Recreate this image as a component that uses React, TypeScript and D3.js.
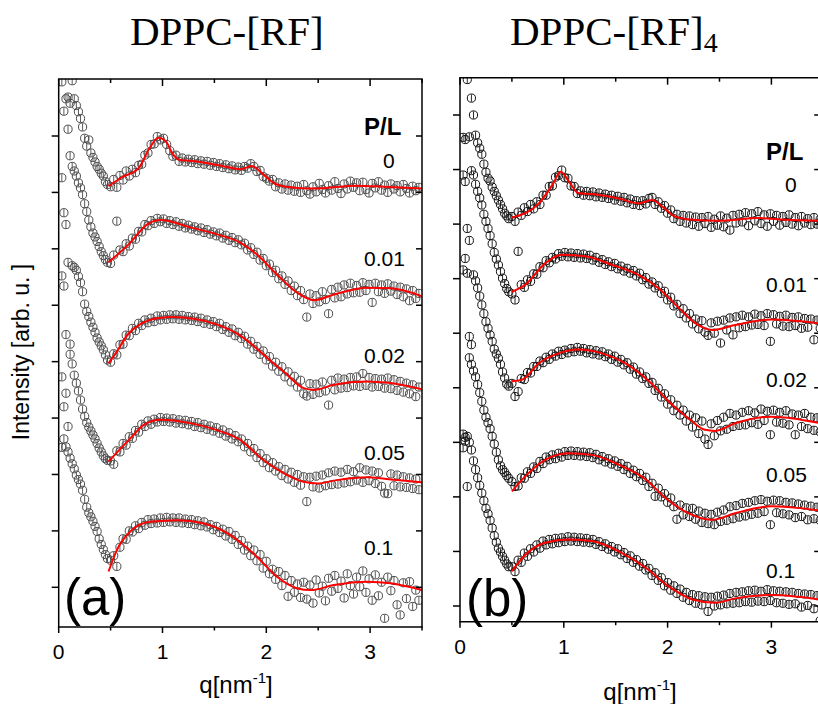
import React from "react";
import * as d3 from "d3";

// shared q grid (nm^-1) for all measured curves
const qGrid = [
  0.03, 0.05, 0.07, 0.09, 0.11, 0.13, 0.15, 0.17, 0.19, 0.21, 0.23, 0.25, 0.27, 0.29, 0.31, 0.33, 0.35, 0.37, 0.39, 0.41, 0.43, 0.45, 0.47,
  0.50, 0.53, 0.56, 0.59, 0.62, 0.65, 0.68, 0.71, 0.74, 0.77, 0.80, 0.83, 0.86, 0.89, 0.92, 0.95, 0.98,
  1.01, 1.04, 1.07, 1.10, 1.13, 1.16, 1.19, 1.22, 1.25, 1.28, 1.31, 1.34, 1.37, 1.40, 1.43, 1.46, 1.49,
  1.52, 1.55, 1.58, 1.61, 1.64, 1.67, 1.70, 1.73, 1.76, 1.79, 1.82, 1.85, 1.88, 1.91, 1.94, 1.97,
  2.00, 2.03, 2.06, 2.09, 2.12, 2.15, 2.18, 2.21, 2.24, 2.27, 2.30, 2.33, 2.36, 2.39, 2.42, 2.45, 2.48,
  2.51, 2.54, 2.57, 2.60, 2.63, 2.66, 2.69, 2.72, 2.75, 2.78, 2.81, 2.84, 2.87, 2.90, 2.93, 2.96, 2.99,
  3.02, 3.05, 3.08, 3.11, 3.14, 3.17, 3.20, 3.23, 3.26, 3.29, 3.32, 3.35, 3.38, 3.41, 3.44, 3.47,
];

// Panel (a): DPPC-[RF], stacked intensities (arb. u.)
const a0 = [
  89.6, 84.4, 86.6, 86.9, 85.8, 89.8, 86.6, 85.4, 84.3, 83.1, 81.6, 79.6, 78.2, 79.3, 77.0, 76.2, 75.4, 74.6, 74.1, 73.4, 72.9, 71.9, 71.4,
  71.0, 72.3, 70.9, 73.0, 72.2, 73.8, 72.9, 74.1, 73.5, 74.8, 75.0, 76.6, 77.0, 78.5, 78.6, 79.9, 79.3,
  79.6, 78.5, 77.4, 76.4, 76.6, 75.5, 76.1, 75.4, 75.9, 75.3, 75.8, 75.1, 75.6, 75.0, 75.5, 74.8, 75.3,
  74.6, 75.1, 74.4, 74.9, 74.2, 74.7, 74.0, 74.5, 73.9, 74.6, 74.3, 75.1, 74.6, 73.7, 73.9, 72.8,
  72.5, 72.0, 72.3, 71.0, 71.7, 70.6, 71.5, 70.4, 71.3, 70.2, 71.1, 70.0, 71.4, 70.3, 69.7, 71.0, 70.1,
  71.6, 70.5, 69.9, 71.2, 70.4, 71.9, 70.7, 69.8, 71.5, 70.6, 72.0, 70.9, 71.7, 70.3, 71.8, 70.5, 69.9,
  71.6, 70.8, 71.9, 70.4, 71.3, 70.0, 71.5, 70.6, 71.2, 70.1, 71.4, 70.7, 69.9, 71.1, 70.3, 70.9,
];
const a1 = [
  72.6, 66.4, 64.3, 81.2, 76.5, 74.6, 73.8, 72.9, 71.7, 70.8, 69.6, 68.0, 66.6, 65.1, 63.9, 62.8, 62.1, 61.3, 60.4, 59.5, 58.8, 58.1, 57.6,
  57.4, 58.9, 64.9, 59.8, 59.5, 60.9, 60.5, 61.9, 61.7, 63.1, 63.0, 64.3, 64.1, 65.0, 64.5, 65.4, 64.8,
  65.3, 64.5, 65.0, 64.3, 64.8, 64.0, 64.5, 63.7, 64.2, 63.5, 63.9, 63.2, 63.7, 62.9, 63.4, 62.6, 63.0,
  62.3, 62.8, 61.9, 62.4, 61.5, 62.0, 61.1, 61.6, 60.7, 61.0, 59.8, 60.2, 59.0, 59.4, 58.0, 58.3,
  57.0, 57.3, 55.8, 56.2, 54.7, 55.2, 53.7, 54.3, 52.6, 53.4, 51.7, 52.6, 51.0, 47.9, 52.0, 50.3, 51.7,
  50.6, 52.4, 51.0, 48.5, 52.8, 51.3, 53.2, 51.5, 53.6, 52.0, 53.9, 52.2, 53.5, 52.3, 54.0, 52.6, 53.7,
  50.5, 53.9, 52.4, 53.6, 52.1, 53.8, 52.5, 53.4, 51.9, 53.2, 51.5, 52.9, 50.8, 52.6, 51.2, 52.1,
];
const a2 = [
  55.2, 53.4, 44.8, 57.6, 43.1, 57.0, 56.7, 56.2, 55.1, 54.0, 52.4, 50.2, 48.9, 48.0, 47.0, 46.1, 45.2, 44.2, 43.5, 42.8, 42.1, 41.2, 40.3,
  39.9, 41.4, 41.2, 43.0, 43.1, 44.7, 44.6, 45.9, 45.5, 46.8, 46.4, 47.4, 46.9, 47.7, 47.1, 48.1, 47.4,
  48.2, 47.5, 48.3, 47.6, 48.3, 47.5, 48.2, 47.4, 48.0, 47.3, 47.9, 47.1, 47.7, 46.8, 47.4, 46.6, 47.1,
  46.2, 46.8, 45.7, 46.2, 45.2, 45.8, 44.6, 45.2, 44.1, 44.5, 43.1, 43.6, 42.2, 42.7, 41.3, 41.9,
  40.3, 40.9, 39.2, 39.9, 38.3, 39.1, 37.3, 38.2, 36.4, 37.4, 35.5, 36.7, 34.3, 33.9, 36.1, 34.2, 36.0,
  34.5, 36.4, 34.8, 32.3, 36.7, 35.0, 37.1, 35.3, 36.9, 35.4, 37.2, 35.7, 37.3, 35.6, 37.9, 35.8, 37.2,
  35.5, 37.0, 35.6, 36.9, 35.3, 37.1, 35.2, 36.8, 34.9, 36.5, 34.6, 36.2, 34.3, 35.9, 33.8, 35.5,
];
const a3 = [
  37.3, 32.0, 34.4, 28.5, 41.3, 39.6, 37.6, 36.2, 34.8, 33.2, 31.6, 30.3, 29.2, 28.4, 27.7, 27.0, 26.3, 25.5, 24.7, 24.0, 23.3, 22.8, 22.5,
  22.4, 21.8, 24.2, 24.0, 25.5, 25.2, 26.7, 26.4, 27.8, 27.5, 28.9, 28.5, 29.5, 28.9, 29.8, 29.3, 30.1,
  29.4, 30.0, 29.3, 29.9, 29.1, 29.7, 29.0, 29.6, 28.8, 29.4, 28.5, 29.2, 28.3, 28.9, 28.0, 28.6, 27.7,
  28.3, 27.3, 27.9, 26.8, 27.4, 26.3, 26.9, 25.8, 26.3, 24.9, 25.5, 24.0, 24.6, 23.0, 23.7, 22.1,
  22.8, 21.2, 22.1, 20.6, 21.4, 19.8, 20.9, 19.2, 20.4, 18.6, 20.0, 18.1, 19.6, 15.2, 19.5, 17.8, 19.7,
  17.6, 19.9, 18.0, 20.3, 18.2, 20.6, 18.3, 20.4, 18.5, 20.9, 18.7, 20.5, 19.0, 21.2, 18.6, 20.8, 18.9,
  20.6, 18.4, 20.3, 17.9, 16.7, 16.6, 20.1, 18.0, 19.9, 17.8, 19.6, 17.7, 19.4, 17.5, 19.2, 17.3,
];
const a4 = [
  24.8, 26.3, 24.9, 24.0, 22.9, 21.9, 21.0, 19.9, 19.1, 18.3, 17.2, 15.6, 14.2, 13.2, 12.5, 11.7, 10.8, 9.9, 8.6, 7.6, 6.7, 5.8, 5.1,
  4.8, 5.6, 3.7, 7.1, 8.6, 8.5, 10.0, 9.8, 10.9, 10.4, 11.5, 11.0, 12.0, 11.3, 12.1, 11.4, 12.3,
  11.5, 12.4, 11.6, 12.3, 11.5, 12.3, 11.4, 12.1, 11.3, 12.0, 11.1, 11.8, 10.9, 11.6, 10.7, 11.1, 10.2,
  10.8, 9.7, 10.3, 9.1, 9.9, 8.5, 9.2, 7.6, 8.3, 6.6, 7.3, 5.6, 6.6, 4.7, 5.8, 3.4,
  4.6, 2.4, 3.2, 1.4, 2.8, 0.3, 2.1, -1.6, 1.2, -0.9, 0.6, -1.8, 0.9, -2.1, 0.4, -2.8, 1.3,
  -1.0, 0.2, -2.4, 1.6, -0.7, 2.1, -0.2, 1.1, -1.9, 2.4, 0.3, -1.2, 1.8, 0.1, 2.9, -0.9, 1.5,
  -2.3, 2.2, -1.5, 0.9, -5.5, 1.8, -0.6, 1.2, -3.1, -4.9, 0.8, -2.0, 1.0, -3.4, -0.5, -2.3,
];

// Panel (b): DPPC-[RF]4
const b0 = [
  85.9, 85.5, 96.5, 86.0, 93.1, 90.0, 86.3, 84.9, 83.9, 82.8, 81.0, 79.5, 78.4, 77.9, 76.8, 76.0, 75.2, 74.4, 73.6, 72.8, 72.0, 71.5, 71.0,
  71.4, 70.5, 72.2, 71.6, 73.0, 72.3, 73.6, 72.8, 74.1, 73.6, 75.3, 75.3, 76.9, 77.0, 78.6, 78.9, 79.9,
  78.5, 78.4, 77.0, 76.9, 75.6, 76.1, 75.3, 76.0, 75.2, 75.9, 75.0, 75.7, 74.9, 75.5, 74.7, 75.3, 74.4,
  75.1, 74.2, 74.9, 73.9, 74.6, 73.6, 74.3, 73.4, 74.3, 73.7, 74.7, 74.9, 73.6, 74.1, 72.9, 73.4,
  72.0, 72.6, 71.0, 71.8, 70.5, 71.6, 70.2, 71.5, 69.9, 71.3, 69.6, 71.2, 70.1, 71.4, 69.4, 70.9, 69.8,
  71.5, 69.5, 71.1, 68.9, 71.6, 70.2, 71.8, 70.4, 72.1, 69.7, 71.9, 70.6, 72.3, 70.1, 71.7, 69.6, 71.9,
  70.5, 71.6, 69.8, 71.4, 70.3, 71.7, 70.0, 71.2, 69.7, 71.4, 70.2, 71.0, 69.9, 71.2, 70.0, 70.9,
];
const b1 = [
  79.0, 77.8, 69.2, 67.0, 79.8, 79.0, 77.3, 76.0, 74.8, 73.5, 71.8, 70.5, 69.2, 67.9, 66.4, 64.8, 63.6, 62.5, 61.3, 60.1, 59.1, 58.2, 57.6,
  57.2, 56.1, 65.0, 58.9, 58.4, 59.8, 59.5, 60.9, 60.8, 62.2, 62.0, 63.3, 62.9, 63.9, 63.6, 64.6, 64.1,
  64.8, 64.0, 64.7, 63.9, 64.6, 63.8, 64.5, 63.7, 64.3, 63.4, 63.9, 63.0, 63.5, 62.6, 63.1, 62.2, 62.8,
  61.8, 62.3, 61.4, 61.9, 61.0, 61.5, 60.5, 61.0, 59.8, 60.2, 59.0, 59.4, 58.3, 58.7, 57.3, 57.7,
  56.1, 56.6, 55.0, 55.3, 53.6, 54.5, 52.8, 53.6, 51.7, 52.6, 50.8, 52.3, 50.2, 49.6, 51.9, 50.0, 52.2,
  48.2, 52.4, 50.6, 52.8, 49.7, 53.0, 51.0, 53.3, 51.2, 53.0, 51.5, 53.5, 51.6, 53.2, 51.4, 53.6, 48.5,
  53.4, 51.7, 53.1, 51.3, 53.3, 51.2, 52.9, 51.4, 53.0, 50.9, 52.7, 51.1, 52.6, 48.8, 52.4, 50.9,
];
const b2 = [
  61.6, 63.7, 61.0, 49.4, 47.9, 60.7, 59.6, 58.3, 56.8, 55.2, 53.6, 52.1, 50.9, 49.7, 48.5, 47.1, 46.2, 45.4, 44.3, 42.9, 41.8, 40.7, 40.3,
  40.8, 38.4, 39.3, 41.7, 41.5, 42.8, 42.7, 43.9, 43.9, 44.9, 44.6, 45.6, 45.2, 46.2, 45.8, 46.7, 46.1,
  46.9, 46.4, 47.2, 46.6, 47.4, 46.7, 47.2, 46.4, 47.0, 46.2, 46.8, 46.0, 46.6, 45.7, 46.2, 45.2, 45.8,
  44.7, 45.2, 44.2, 44.6, 43.4, 43.8, 42.5, 42.9, 41.7, 42.0, 40.8, 41.0, 39.5, 39.9, 38.3, 38.9,
  37.0, 37.8, 35.8, 36.8, 35.0, 35.9, 33.9, 35.0, 32.8, 34.5, 31.6, 33.9, 30.6, 29.6, 33.4, 31.2, 34.0,
  32.1, 34.6, 32.4, 35.3, 32.9, 35.0, 33.1, 35.5, 33.2, 35.8, 33.6, 35.4, 33.3, 36.1, 34.0, 35.7, 31.4,
  35.9, 33.7, 35.5, 33.5, 35.8, 33.2, 35.2, 31.4, 35.0, 32.9, 35.3, 32.5, 34.6, 32.2, 34.5, 31.9,
];
const b3 = [
  29.0, 30.2, 21.9, 45.5, 44.3, 43.1, 42.0, 40.6, 39.1, 37.5, 35.9, 34.6, 33.6, 32.5, 31.1, 29.7, 28.2, 26.8, 25.7, 25.0, 24.5, 23.9, 23.4,
  22.8, 21.9, 22.0, 23.5, 23.4, 24.6, 24.3, 25.5, 25.2, 26.5, 26.1, 27.3, 26.8, 27.7, 27.0, 28.0, 27.3,
  28.3, 27.6, 28.4, 27.6, 28.3, 27.5, 28.2, 27.4, 28.1, 27.2, 27.8, 26.8, 27.4, 26.4, 27.0, 26.0, 26.6,
  25.6, 26.1, 25.0, 25.6, 24.3, 24.9, 23.7, 24.3, 23.0, 23.6, 21.9, 22.5, 20.1, 21.6, 20.0, 20.6,
  19.0, 19.8, 18.2, 15.9, 18.5, 16.7, 18.0, 16.4, 17.9, 15.9, 17.4, 15.3, 17.0, 15.1, 16.8, 14.9, 17.2,
  15.5, 17.6, 15.7, 18.2, 16.0, 18.4, 16.3, 18.8, 16.5, 19.0, 16.8, 19.3, 17.0, 19.5, 17.3, 19.2, 14.9,
  19.4, 17.1, 19.3, 16.9, 19.0, 16.7, 18.9, 16.2, 18.7, 16.4, 18.5, 15.8, 18.3, 16.0, 18.1, 15.7,
];
const b4 = [
  31.5, 30.9, 31.1, 30.0, 28.6, 26.6, 25.0, 23.5, 22.1, 20.7, 19.3, 17.9, 16.9, 15.7, 14.3, 12.9, 11.7, 10.6, 9.9, 9.1, 8.4, 7.7, 7.2,
  7.2, 6.3, 8.4, 8.0, 9.7, 9.1, 10.5, 9.9, 11.2, 10.6, 11.9, 11.2, 12.2, 11.4, 12.4, 11.6, 12.5,
  11.8, 12.7, 11.9, 12.6, 11.8, 12.5, 11.7, 12.4, 11.6, 12.2, 11.3, 11.8, 10.9, 11.4, 10.4, 10.9, 9.9,
  10.5, 9.4, 9.8, 8.7, 9.2, 8.0, 8.5, 7.3, 7.8, 6.6, 6.9, 5.6, 6.1, 4.7, 5.2, 3.7,
  4.3, 2.9, 3.7, 2.3, 3.1, 1.6, 2.5, 1.0, 2.1, 0.5, 1.9, 0.2, 1.7, -1.0, 1.6, 0.0, 1.8,
  0.2, 2.0, 0.4, 2.3, 0.5, 2.5, 0.6, 2.6, 0.8, 2.8, 0.7, 2.9, 0.9, 2.7, 0.8, 3.0, 1.0,
  2.8, 0.6, 2.7, 0.5, 2.6, 0.3, 2.5, 0.4, 2.3, -0.2, 2.2, 0.1, 2.1, -0.5, 1.9, -2.7,
];

// model fits (red lines), [q, intensity]
const fitA0 = [[0.48, 71.1], [0.6, 72.6], [0.77, 74.3], [0.88, 78.0], [0.96, 79.7], [1.03, 79.1], [1.1, 76.8], [1.16, 75.8], [1.27, 75.6], [1.46, 75.1], [1.6, 74.6], [1.75, 74.1], [1.86, 74.7], [1.97, 73.2], [2.1, 71.4], [2.3, 70.8], [2.49, 70.7], [2.87, 71.2], [3.13, 71.0], [3.5, 70.7]];
const fitA1 = [[0.48, 57.6], [0.69, 61.1], [0.85, 64.3], [0.98, 65.1], [1.27, 63.8], [1.52, 62.6], [1.75, 61.1], [1.91, 59.0], [2.1, 55.5], [2.3, 52.2], [2.46, 50.9], [2.65, 51.9], [2.97, 53.1], [3.2, 53.0], [3.5, 51.6]];
const fitA2 = [[0.48, 39.7], [0.55, 41.5], [0.67, 44.9], [0.8, 46.8], [0.95, 47.7], [1.11, 47.9], [1.3, 47.6], [1.52, 46.6], [1.75, 44.6], [1.94, 41.8], [2.05, 40.0], [2.17, 38.2], [2.36, 35.3], [2.46, 35.0], [2.65, 35.9], [2.97, 36.5], [3.2, 36.2], [3.5, 35.1]];
const fitA3 = [[0.48, 22.3], [0.69, 26.4], [0.82, 28.8], [0.98, 29.7], [1.27, 29.1], [1.52, 27.9], [1.75, 26.1], [1.97, 22.6], [2.17, 20.2], [2.36, 18.7], [2.49, 18.4], [2.68, 19.0], [2.97, 19.5], [3.26, 19.0], [3.5, 18.6]];
const fitA4 = [[0.48, 2.8], [0.56, 6.6], [0.69, 9.9], [0.88, 11.6], [1.14, 11.9], [1.4, 11.3], [1.65, 9.3], [1.91, 5.4], [2.1, 1.9], [2.3, -0.2], [2.43, -0.5], [2.65, 0.4], [2.97, 1.0], [3.2, 0.7], [3.5, -0.5]];
const fitB0 = [[0.5, 71.2], [0.76, 73.8], [0.89, 77.2], [0.97, 79.6], [1.05, 77.8], [1.14, 75.7], [1.27, 75.5], [1.53, 74.7], [1.72, 73.8], [1.85, 74.4], [1.95, 73.2], [2.07, 71.4], [2.24, 70.8], [2.49, 70.6], [2.88, 71.1], [3.13, 70.8], [3.5, 70.6]];
const fitB1 = [[0.5, 57.6], [0.63, 58.9], [0.82, 62.8], [0.98, 64.4], [1.21, 64.1], [1.47, 62.5], [1.72, 60.7], [1.91, 58.3], [2.11, 54.6], [2.27, 51.8], [2.43, 50.6], [2.65, 51.5], [3.0, 52.5], [3.5, 51.7]];
const fitB2 = [[0.5, 41.2], [0.6, 41.5], [0.76, 44.5], [0.95, 46.3], [1.14, 47.0], [1.37, 46.3], [1.59, 44.5], [1.82, 41.2], [2.01, 37.5], [2.2, 34.4], [2.36, 32.3], [2.46, 32.1], [2.65, 33.5], [3.0, 34.7], [3.5, 33.4]];
const fitB3 = [[0.5, 21.0], [0.63, 23.8], [0.82, 26.8], [1.05, 28.0], [1.27, 27.7], [1.53, 25.9], [1.79, 23.2], [1.98, 19.8], [2.17, 17.3], [2.43, 15.8], [2.65, 17.0], [3.0, 18.3], [3.5, 17.4]];
const fitB4 = [[0.5, 6.4], [0.63, 9.4], [0.82, 11.6], [1.05, 12.2], [1.27, 11.9], [1.53, 10.0], [1.79, 7.0], [2.01, 3.6], [2.24, 1.2], [2.46, 0.6], [2.65, 1.4], [3.0, 2.0], [3.5, 1.1]];

const plLabels = ["0", "0.01", "0.02", "0.05", "0.1"];
const xMajorTicks = [0, 1, 2, 3];
const xMinorTicks = [0.5, 1.5, 2.5, 3.5];
const xTickLabels = ["0", "1", "2", "3"];
const yTicksA = [0, 10, 20, 30, 40, 50, 60, 70, 80];
const yTicksB = [0, 10, 20, 30, 40, 50, 60, 70, 80, 90];

const SANS = "'Liberation Sans', Arial, sans-serif";
const SERIF = "'Liberation Serif', 'Times New Roman', serif";

type PanelProps = {
  id: string;
  left: number; right: number; top: number; bottom: number;
  xRange: [number, number];
  yDomain: [number, number]; yRange: [number, number];
  series: number[][];
  fits: number[][][];
  markerColor: string;
  yTicks: number[];
  tickLabelY: number;
  labelX: number;
  zeroX: number;
  plY: number;
  labelYs: number[];
  letter: string; letterX: number; letterY: number;
  xTitleX: number; xTitleY: number;
};

function Panel(p: PanelProps) {
  const x = d3.scaleLinear().domain([0, 3.5]).range(p.xRange);
  const y = d3.scaleLinear().domain(p.yDomain).range(p.yRange);
  const line = d3
    .line<number[]>()
    .x((d) => x(d[0]))
    .y((d) => y(d[1]))
    .curve(d3.curveMonotoneX);
  const r = 4.1;
  const ax = { stroke: "#000", strokeWidth: 1.5 };
  return (
    <g>
      <defs>
        <clipPath id={p.id}>
          <rect x={p.left} y={p.top} width={p.right - p.left} height={p.bottom - p.top} />
        </clipPath>
      </defs>
      <g clipPath={`url(#${p.id})`}>
        {p.series.map((vals, si) =>
          vals.map((v, i) => {
            if (v == null || i >= qGrid.length) return null;
            const cx = x(qGrid[i]);
            const cy = y(v);
            return (
              <g key={`${si}-${i}`} stroke={p.markerColor} strokeWidth={1} fill="none">
                <circle cx={cx} cy={cy} r={r} />
                <line x1={cx} x2={cx} y1={cy - r + 0.5} y2={cy + r - 0.5} strokeWidth={0.9} />
              </g>
            );
          })
        )}
        {p.fits.map((f, i) => (
          <path key={i} d={line(f) || ""} fill="none" stroke="#ff0000" strokeWidth={2} />
        ))}
      </g>
      {/* frame */}
      <line x1={p.left} x2={p.left} y1={p.top} y2={p.bottom} {...ax} />
      <line x1={p.right} x2={p.right} y1={p.top} y2={p.bottom} {...ax} />
      <line x1={p.left - 0.75} x2={p.right + 0.75} y1={p.top} y2={p.top} {...ax} />
      <line x1={p.left - 0.75} x2={p.right + 0.75} y1={p.bottom} y2={p.bottom} {...ax} />
      {p.yTicks.map((t) => (
        <g key={"y" + t}>
          <line x1={p.left - 7} x2={p.left} y1={y(t)} y2={y(t)} {...ax} />
          <line x1={p.right - 6} x2={p.right} y1={y(t)} y2={y(t)} {...ax} />
        </g>
      ))}
      {xMajorTicks.map((t, i) => (
        <g key={"x" + t}>
          <line x1={x(t)} x2={x(t)} y1={p.bottom} y2={p.bottom + 6} {...ax} />
          <line x1={x(t)} x2={x(t)} y1={p.top} y2={p.top + 7} {...ax} />
          <text x={x(t)} y={p.tickLabelY} textAnchor="middle" fontFamily={SANS} fontSize={21}>
            {xTickLabels[i]}
          </text>
        </g>
      ))}
      {xMinorTicks
        .filter((t) => x(t) <= p.right + 0.5)
        .map((t) => (
          <g key={"m" + t}>
            <line x1={x(t)} x2={x(t)} y1={p.bottom} y2={p.bottom + 3.5} {...ax} />
            <line x1={x(t)} x2={x(t)} y1={p.top} y2={p.top + 4} {...ax} />
          </g>
        ))}
      <text x={p.labelX} y={p.plY} fontFamily={SANS} fontSize={24} fontWeight="bold">
        P/L
      </text>
      {plLabels.map((s, i) => (
        <text key={s} x={i === 0 ? p.zeroX : p.labelX} y={p.labelYs[i]} fontFamily={SANS} fontSize={21}>
          {s}
        </text>
      ))}
      <text x={p.letterX} y={p.letterY} fontFamily={SANS} fontSize={51}>
        {p.letter}
      </text>
      <text x={p.xTitleX} y={p.xTitleY} textAnchor="middle" fontFamily={SANS} fontSize={24}>
        q[nm
        <tspan fontSize={15} dy={-10}>-1</tspan>
        <tspan dy={10}>]</tspan>
      </text>
    </g>
  );
}

export default function App() {
  return (
    <svg
      width={818}
      height={704}
      viewBox="0 0 818 704"
      style={{ position: "absolute", left: 0, top: 0, background: "#fff" }}
    >
      <rect x={0} y={0} width={818} height={704} fill="#fff" />
      <text x={130} y={45} fontFamily={SERIF} fontSize={41}>
        DPPC-[RF]
      </text>
      <text x={510} y={45} fontFamily={SERIF} fontSize={41}>
        DPPC-[RF]
        <tspan fontSize={28} dy={7}>4</tspan>
      </text>
      <text
        transform="translate(29,352) rotate(-90)"
        textAnchor="middle"
        fontFamily={SANS}
        fontSize={23}
      >
        Intensity [arb. u. ]
      </text>
      <Panel
        id="clipA"
        left={58.7}
        right={422}
        top={79}
        bottom={627}
        xRange={[58.7, 422]}
        yDomain={[0, 80]}
        yRange={[587.3, 136]}
        series={[a0, a1, a2, a3, a4]}
        fits={[fitA0, fitA1, fitA2, fitA3, fitA4]}
        markerColor="#4a4a4a"
        yTicks={yTicksA}
        tickLabelY={659}
        labelX={364}
        zeroX={383}
        plY={135}
        labelYs={[168, 266, 363, 460, 555]}
        letter="(a)"
        letterX={64}
        letterY={615}
        xTitleX={236}
        xTitleY={693}
      />
      <Panel
        id="clipB"
        left={460}
        right={820.2}
        top={77.7}
        bottom={621.7}
        xRange={[460, 823.3]}
        yDomain={[0, 90]}
        yRange={[606, 115]}
        series={[b0, b1, b2, b3, b4]}
        fits={[fitB0, fitB1, fitB2, fitB3, fitB4]}
        markerColor="#111"
        yTicks={yTicksB}
        tickLabelY={654}
        labelX={766}
        zeroX={785}
        plY={160}
        labelYs={[192, 292, 387, 482, 578]}
        letter="(b)"
        letterX={466}
        letterY={616}
        xTitleX={640}
        xTitleY={700}
      />
    </svg>
  );
}
